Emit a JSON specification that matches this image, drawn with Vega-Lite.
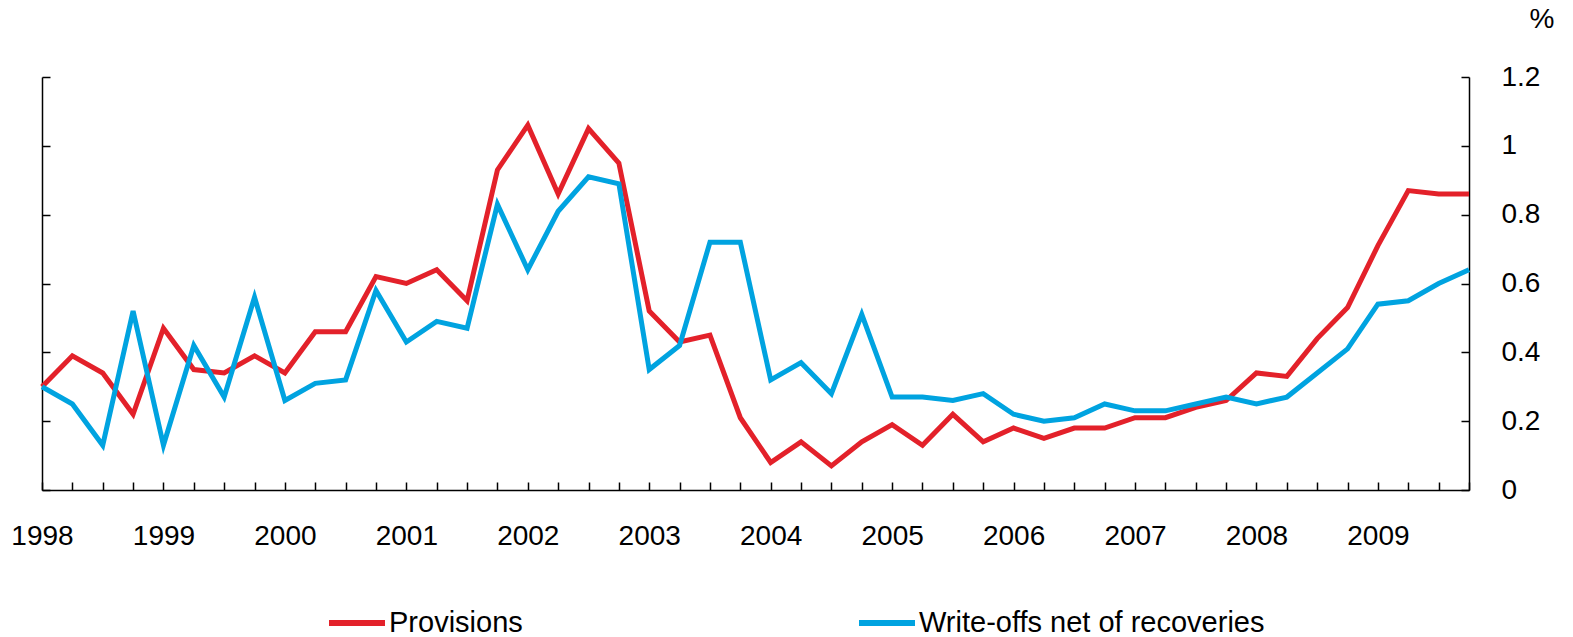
{
  "$schema": "https://vega.github.io/schema/vega-lite/v6.json",
  "autosize": {"type": "none"},
  "padding": {"left": 42, "top": 77, "right": 104, "bottom": 147},
  "width": 1427,
  "height": 413,
  "config": {
    "font": "Liberation Sans",
    "view": {"stroke": null},
    "axis": {"grid": false, "domainColor": "#000000", "tickColor": "#000000", "domainWidth": 1.5, "tickWidth": 1.5, "labelColor": "#000000", "labelFont": "Liberation Sans", "labelFontSize": 28}
  },
  "data": {
    "values": [
      {"q": "1998-Q1", "Provisions": 0.30, "Write-offs net of recoveries": 0.30},
      {"q": "1998-Q2", "Provisions": 0.39, "Write-offs net of recoveries": 0.25},
      {"q": "1998-Q3", "Provisions": 0.34, "Write-offs net of recoveries": 0.13},
      {"q": "1998-Q4", "Provisions": 0.22, "Write-offs net of recoveries": 0.52},
      {"q": "1999-Q1", "Provisions": 0.47, "Write-offs net of recoveries": 0.13},
      {"q": "1999-Q2", "Provisions": 0.35, "Write-offs net of recoveries": 0.42},
      {"q": "1999-Q3", "Provisions": 0.34, "Write-offs net of recoveries": 0.27},
      {"q": "1999-Q4", "Provisions": 0.39, "Write-offs net of recoveries": 0.56},
      {"q": "2000-Q1", "Provisions": 0.34, "Write-offs net of recoveries": 0.26},
      {"q": "2000-Q2", "Provisions": 0.46, "Write-offs net of recoveries": 0.31},
      {"q": "2000-Q3", "Provisions": 0.46, "Write-offs net of recoveries": 0.32},
      {"q": "2000-Q4", "Provisions": 0.62, "Write-offs net of recoveries": 0.58},
      {"q": "2001-Q1", "Provisions": 0.60, "Write-offs net of recoveries": 0.43},
      {"q": "2001-Q2", "Provisions": 0.64, "Write-offs net of recoveries": 0.49},
      {"q": "2001-Q3", "Provisions": 0.55, "Write-offs net of recoveries": 0.47},
      {"q": "2001-Q4", "Provisions": 0.93, "Write-offs net of recoveries": 0.83},
      {"q": "2002-Q1", "Provisions": 1.06, "Write-offs net of recoveries": 0.64},
      {"q": "2002-Q2", "Provisions": 0.86, "Write-offs net of recoveries": 0.81},
      {"q": "2002-Q3", "Provisions": 1.05, "Write-offs net of recoveries": 0.91},
      {"q": "2002-Q4", "Provisions": 0.95, "Write-offs net of recoveries": 0.89},
      {"q": "2003-Q1", "Provisions": 0.52, "Write-offs net of recoveries": 0.35},
      {"q": "2003-Q2", "Provisions": 0.43, "Write-offs net of recoveries": 0.42},
      {"q": "2003-Q3", "Provisions": 0.45, "Write-offs net of recoveries": 0.72},
      {"q": "2003-Q4", "Provisions": 0.21, "Write-offs net of recoveries": 0.72},
      {"q": "2004-Q1", "Provisions": 0.08, "Write-offs net of recoveries": 0.32},
      {"q": "2004-Q2", "Provisions": 0.14, "Write-offs net of recoveries": 0.37},
      {"q": "2004-Q3", "Provisions": 0.07, "Write-offs net of recoveries": 0.28},
      {"q": "2004-Q4", "Provisions": 0.14, "Write-offs net of recoveries": 0.51},
      {"q": "2005-Q1", "Provisions": 0.19, "Write-offs net of recoveries": 0.27},
      {"q": "2005-Q2", "Provisions": 0.13, "Write-offs net of recoveries": 0.27},
      {"q": "2005-Q3", "Provisions": 0.22, "Write-offs net of recoveries": 0.26},
      {"q": "2005-Q4", "Provisions": 0.14, "Write-offs net of recoveries": 0.28},
      {"q": "2006-Q1", "Provisions": 0.18, "Write-offs net of recoveries": 0.22},
      {"q": "2006-Q2", "Provisions": 0.15, "Write-offs net of recoveries": 0.20},
      {"q": "2006-Q3", "Provisions": 0.18, "Write-offs net of recoveries": 0.21},
      {"q": "2006-Q4", "Provisions": 0.18, "Write-offs net of recoveries": 0.25},
      {"q": "2007-Q1", "Provisions": 0.21, "Write-offs net of recoveries": 0.23},
      {"q": "2007-Q2", "Provisions": 0.21, "Write-offs net of recoveries": 0.23},
      {"q": "2007-Q3", "Provisions": 0.24, "Write-offs net of recoveries": 0.25},
      {"q": "2007-Q4", "Provisions": 0.26, "Write-offs net of recoveries": 0.27},
      {"q": "2008-Q1", "Provisions": 0.34, "Write-offs net of recoveries": 0.25},
      {"q": "2008-Q2", "Provisions": 0.33, "Write-offs net of recoveries": 0.27},
      {"q": "2008-Q3", "Provisions": 0.44, "Write-offs net of recoveries": 0.34},
      {"q": "2008-Q4", "Provisions": 0.53, "Write-offs net of recoveries": 0.41},
      {"q": "2009-Q1", "Provisions": 0.71, "Write-offs net of recoveries": 0.54},
      {"q": "2009-Q2", "Provisions": 0.87, "Write-offs net of recoveries": 0.55},
      {"q": "2009-Q3", "Provisions": 0.86, "Write-offs net of recoveries": 0.60},
      {"q": "2009-Q4", "Provisions": 0.86, "Write-offs net of recoveries": 0.64}
    ]
  },
  "transform": [
    {"fold": ["Provisions", "Write-offs net of recoveries"], "as": ["series", "value"]}
  ],
  "layer": [
    {
      "mark": {"type": "line", "opacity": 0},
      "encoding": {
        "x": {"field": "q", "type": "ordinal", "scale": {"type": "point", "padding": 0},
          "axis": {"orient": "bottom", "title": null, "labelAngle": 0, "labelOverlap": false, "tickSize": -8, "labelPadding": 40, "labelBaseline": "top",
            "labelExpr": "substring(datum.value, 5, 7) == 'Q1' ? substring(datum.value, 0, 4) : ''"}},
        "y": {"field": "value", "type": "quantitative", "scale": {"domain": [0, 1.2], "nice": false},
          "axis": {"orient": "left", "labels": false, "title": null, "values": [0, 0.2, 0.4, 0.6, 0.8, 1, 1.2], "tickSize": -8}},
        "detail": {"field": "series"}
      }
    },
    {
      "mark": {"type": "line", "strokeWidth": 5, "strokeJoin": "miter"},
      "encoding": {
        "x": {"field": "q", "type": "ordinal", "scale": {"type": "point", "padding": 0}},
        "y": {"field": "value", "type": "quantitative", "scale": {"domain": [0, 1.2], "nice": false},
          "axis": {"orient": "right", "values": [0, 0.2, 0.4, 0.6, 0.8, 1, 1.2], "format": "~g", "tickSize": -8, "labelPadding": 40, "labelAlign": "left", "labelBaseline": "middle",
            "title": "%", "titleAngle": 0, "titleAlign": "right", "titleBaseline": "middle", "titleX": 85, "titleY": -58, "titleFontSize": 28, "titleFontWeight": "normal", "titleFont": "Liberation Sans", "titleColor": "#000000"}},
        "color": {"field": "series", "type": "nominal",
          "scale": {"domain": ["Provisions", "Write-offs net of recoveries"], "range": ["#e3212a", "#00a3e0"]},
          "legend": {"title": null, "orient": "none", "direction": "horizontal", "legendX": 284, "legendY": 515, "padding": 0,
            "symbolType": "stroke", "symbolSize": 3136, "symbolStrokeWidth": 6, "labelFontSize": 29, "labelFont": "Liberation Sans", "labelColor": "#000000", "labelOffset": 1, "columnPadding": 324, "labelLimit": 600}}
      }
    }
  ],
  "resolve": {"axis": {"y": "independent"}}
}
